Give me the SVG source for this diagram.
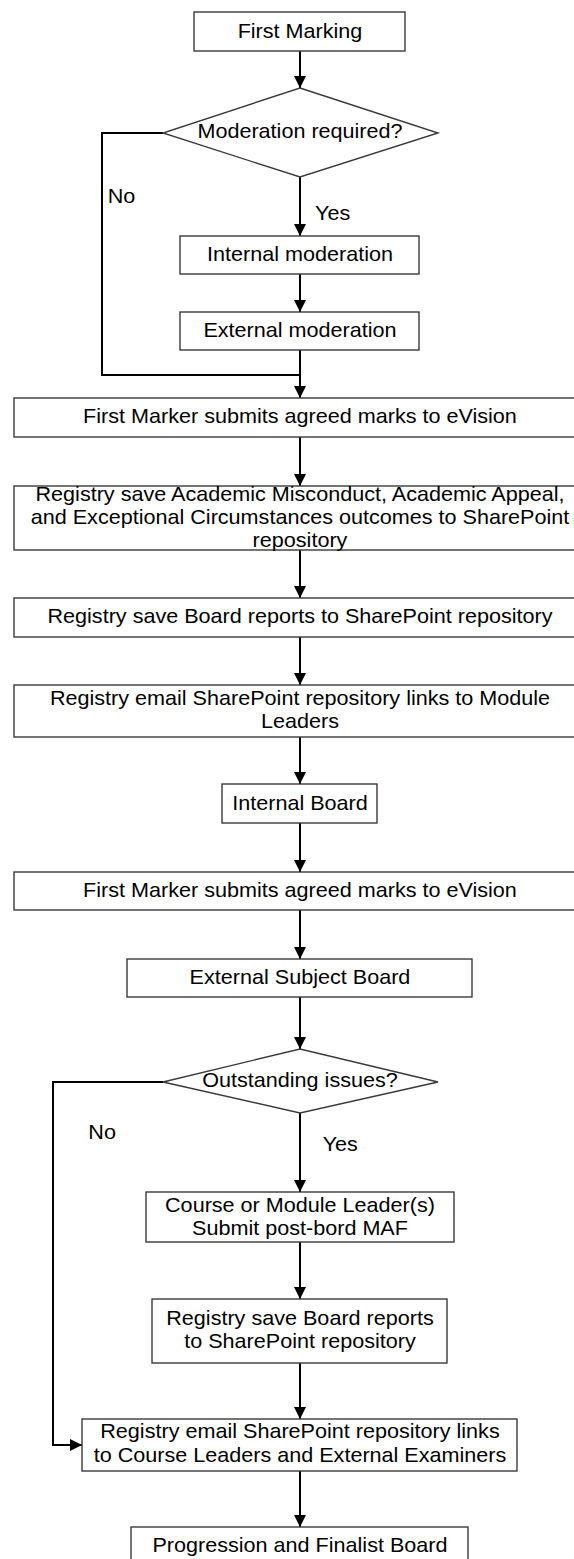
<svg xmlns="http://www.w3.org/2000/svg" width="574" height="1559" viewBox="0 0 574 1559">
<defs>
<marker id="arr" markerUnits="userSpaceOnUse" markerWidth="12" markerHeight="12" refX="12" refY="6" orient="auto">
<path d="M0,0 L12,6 L0,12 z" fill="#000"/>
</marker>
<style>
.box{fill:#fff;stroke:#3a3a3a;stroke-width:1.4}
.t{font-family:"Liberation Sans",Arial,sans-serif;font-size:20px;fill:#000;text-anchor:middle}
.l{font-family:"Liberation Sans",Arial,sans-serif;font-size:20px;fill:#000}
.c{fill:none;stroke:#000;stroke-width:2}
.ca{fill:none;stroke:#000;stroke-width:2;marker-end:url(#arr)}
</style>
</defs>
<rect width="574" height="1559" fill="#fff"/>
<g id="connectors">
<line class="ca" x1="300" y1="51" x2="300" y2="88"/>
<line class="ca" x1="300" y1="177" x2="300" y2="236"/>
<line class="ca" x1="300" y1="274" x2="300" y2="312"/>
<line class="ca" x1="300" y1="350" x2="300" y2="398"/>
<polyline class="c" points="163,133 102,133 102,375 300,375"/>
<line class="ca" x1="300" y1="437" x2="300" y2="486"/>
<line class="ca" x1="300" y1="550" x2="300" y2="598"/>
<line class="ca" x1="300" y1="637" x2="300" y2="685"/>
<line class="ca" x1="300" y1="737" x2="300" y2="784"/>
<line class="ca" x1="300" y1="823" x2="300" y2="872"/>
<line class="ca" x1="300" y1="910" x2="300" y2="959"/>
<line class="ca" x1="300" y1="997" x2="300" y2="1049"/>
<line class="ca" x1="300" y1="1113" x2="300" y2="1192"/>
<line class="ca" x1="300" y1="1242" x2="300" y2="1299"/>
<line class="ca" x1="300" y1="1363" x2="300" y2="1419"/>
<line class="ca" x1="300" y1="1471" x2="300" y2="1527"/>
<polyline class="ca" points="163,1082 53,1082 53,1445 82,1445"/>
<text class="l" x="122" y="203" transform="matrix(1.08 0 0 1 -24 0)">No</text>
<text class="l" x="314" y="220" transform="matrix(1.08 0 0 1 -24 0)">Yes</text>
<text class="l" x="104" y="1139" transform="matrix(1.08 0 0 1 -24 0)">No</text>
<text class="l" x="321" y="1151" transform="matrix(1.08 0 0 1 -24 0)">Yes</text>
</g>
<g id="first-marking">
<rect class="box" x="194" y="12" width="211" height="39"/>
<text class="t" x="300" y="38" transform="matrix(1.08 0 0 1 -24 0)">First Marking</text>
</g>
<g id="moderation-required">
<polygon class="box" points="300,88 438,133 300,177 163,133"/>
<text class="t" x="300" y="138" transform="matrix(1.08 0 0 1 -24 0)">Moderation required?</text>
</g>
<g id="internal-moderation">
<rect class="box" x="180" y="236" width="239" height="38"/>
<text class="t" x="300" y="261" transform="matrix(1.08 0 0 1 -24 0)">Internal moderation</text>
</g>
<g id="external-moderation">
<rect class="box" x="180" y="312" width="239" height="38"/>
<text class="t" x="300" y="337" transform="matrix(1.08 0 0 1 -24 0)">External moderation</text>
</g>
<g id="submit-marks-1">
<rect class="box" x="14" y="398" width="571" height="39"/>
<text class="t" x="300" y="423" transform="matrix(1.08 0 0 1 -24 0)">First Marker submits agreed marks to eVision</text>
</g>
<g id="save-outcomes">
<rect class="box" x="14" y="486" width="571" height="64"/>
<text class="t" transform="matrix(1.08 0 0 1 -24 0)"><tspan x="300" y="501">Registry save Academic Misconduct, Academic Appeal,</tspan><tspan x="300" y="524">and Exceptional Circumstances outcomes to SharePoint</tspan><tspan x="300" y="547">repository</tspan></text>
</g>
<g id="save-board-reports-1">
<rect class="box" x="14" y="598" width="571" height="39"/>
<text class="t" x="300" y="623" transform="matrix(1.08 0 0 1 -24 0)">Registry save Board reports to SharePoint repository</text>
</g>
<g id="email-module-leaders">
<rect class="box" x="14" y="685" width="571" height="52"/>
<text class="t" transform="matrix(1.08 0 0 1 -24 0)"><tspan x="300" y="705">Registry email SharePoint repository links to Module</tspan><tspan x="300" y="728">Leaders</tspan></text>
</g>
<g id="internal-board">
<rect class="box" x="222" y="784" width="155" height="39"/>
<text class="t" x="300" y="810" transform="matrix(1.08 0 0 1 -24 0)">Internal Board</text>
</g>
<g id="submit-marks-2">
<rect class="box" x="14" y="872" width="571" height="38"/>
<text class="t" x="300" y="897" transform="matrix(1.08 0 0 1 -24 0)">First Marker submits agreed marks to eVision</text>
</g>
<g id="external-subject-board">
<rect class="box" x="127" y="959" width="345" height="38"/>
<text class="t" x="300" y="984" transform="matrix(1.08 0 0 1 -24 0)">External Subject Board</text>
</g>
<g id="outstanding-issues">
<polygon class="box" points="300,1049 438,1082 300,1113 163,1082"/>
<text class="t" x="300" y="1087" transform="matrix(1.08 0 0 1 -24 0)">Outstanding issues?</text>
</g>
<g id="post-board-maf">
<rect class="box" x="146" y="1192" width="308" height="50"/>
<text class="t" transform="matrix(1.08 0 0 1 -24 0)"><tspan x="300" y="1212">Course or Module Leader(s)</tspan><tspan x="300" y="1235">Submit post-bord MAF</tspan></text>
</g>
<g id="save-board-reports-2">
<rect class="box" x="152" y="1299" width="295" height="64"/>
<text class="t" transform="matrix(1.08 0 0 1 -24 0)"><tspan x="300" y="1325">Registry save Board reports</tspan><tspan x="300" y="1348">to SharePoint repository</tspan></text>
</g>
<g id="email-course-leaders">
<rect class="box" x="82" y="1419" width="435" height="52"/>
<text class="t" transform="matrix(1.08 0 0 1 -24 0)"><tspan x="300" y="1438">Registry email SharePoint repository links</tspan><tspan x="300" y="1462">to Course Leaders and External Examiners</tspan></text>
</g>
<g id="progression-finalist-board">
<rect class="box" x="131" y="1527" width="337" height="42"/>
<text class="t" x="300" y="1552" transform="matrix(1.08 0 0 1 -24 0)">Progression and Finalist Board</text>
</g>
</svg>
